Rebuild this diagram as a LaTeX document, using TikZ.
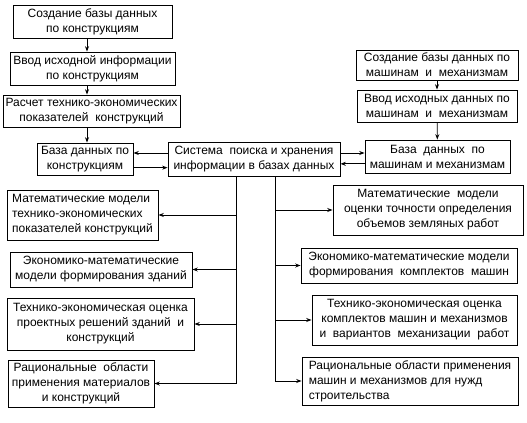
\documentclass[tikz,border=0pt]{standalone}
\usepackage{fontspec}
\setmainfont{Liberation Sans}
\usepackage{tikz}
\usetikzlibrary{arrows.meta,positioning,calc}
\tikzset{
  box/.style={rectangle, draw=black, fill=white, line width=0.7pt,
              align=center, inner sep=1.5pt, font=\fontsize{9}{11.2}\selectfont},
  lbox/.style={box, align=left},
  flow/.style={-{Stealth[length=4pt,width=3pt]}, draw=black, line width=0.6pt},
  trunk/.style={draw=black, line width=0.6pt}
}
\begin{document}
\begin{tikzpicture}[x=0.75pt, y=-0.75pt]
  \useasboundingbox (0,0) rectangle (527,423);

  \newcommand{\blk}[7]{%
    \node[#1, minimum width={(#5-#3)*0.75pt}, minimum height={(#6-#4)*0.75pt}]
      (#2) at ({(#3+#5)/2},{(#4+#6)/2}) {#7};}

  \blk{box}{b1}{13}{5}{172}{38}{Создание базы данных\\по конструкциям}
  \blk{box}{b2}{10}{52}{175}{85}{Ввод исходной информации\\по конструкциям}
  \blk{box}{b3}{3}{95}{180}{127}{Расчет технико-экономических\\показателей \ конструкций}
  \blk{box}{b4}{37}{143}{133}{175}{База данных по\\конструкциям}
  \blk{box}{sys}{168}{142}{340}{176}{Система \ поиска и хранения\\информации в базах данных}
  \blk{box}{r1}{356}{50}{518}{80}{Создание базы данных по\\машинам \ и \ механизмам}
  \blk{box}{r2}{357}{90}{517}{122}{Ввод исходных данных по\\машинам \ и \ механизмам}
  \blk{box}{rdb}{365}{140}{510}{173}{База \ данных \ по\\машинам и механизмам}

  \blk{lbox}{l1}{7}{190}{158}{240}{Математические модели\\технико-экономических\\показателей конструкций}
  \blk{box}{l2}{10}{252}{192}{287}{Экономико-математические\\модели формирования зданий}
  \blk{box}{l3}{7}{298}{194}{350}{Технико-экономическая оценка\\проектных решений зданий \ и\\конструкций}
  \blk{box}{l4}{8}{360}{154}{407}{Рациональные \ области\\применения материалов\\и конструкций}

  \blk{box}{r4}{333}{185}{523}{235}{Математические \ модели\\оценки точности определения\\объемов земляных работ}
  \blk{box}{r5}{301}{248}{517}{283}{Экономико-математические модели\\формирования \ комплектов \ машин}
  \blk{box}{r6}{312}{295}{517}{345}{Технико-экономическая оценка\\комплектов машин и механизмов\\и \ вариантов \ механизации \ работ}
  \blk{lbox}{r7}{302}{357}{518}{405}{Рациональные области применения\\машин и механизмов для нужд\\строительства}

  \coordinate (colL) at (87,0);
  \coordinate (trunkL) at (236,0);
  \coordinate (trunkR) at (275,0);

  \draw[flow] (b1.south -| colL) -- (b2.north -| colL);
  \draw[flow] (b2.south -| colL) -- (b3.north -| colL);
  \draw[flow] (b3.south -| colL) -- (b4.north -| colL);
  \draw[flow] (r1) -- (r2);
  \draw[flow] (r2) -- (rdb);

  \draw[flow] ([yshift=4.5pt]sys.west) -- ([yshift=4.5pt]sys.west -| b4.east);
  \draw[flow] ([yshift=-6.5pt]b4.east) -- ([yshift=-6.5pt]b4.east -| sys.west);
  \draw[flow] ([yshift=4.5pt]sys.east) -- ([yshift=4.5pt]sys.east -| rdb.west);
  \draw[flow] ([yshift=-5.5pt]rdb.west) -- ([yshift=-5.5pt]rdb.west -| sys.east);

  \draw[flow] (sys.south -| trunkL) |- (l4.east);
  \foreach \t in {l1,l2,l3}
    \draw[flow] (trunkL |- \t.east) -- (\t.east);
  \draw[flow] (sys.south -| trunkR) |- (r7.west);
  \foreach \t in {r4,r5,r6}
    \draw[flow] (trunkR |- \t.west) -- (\t.west);
\end{tikzpicture}
\end{document}
